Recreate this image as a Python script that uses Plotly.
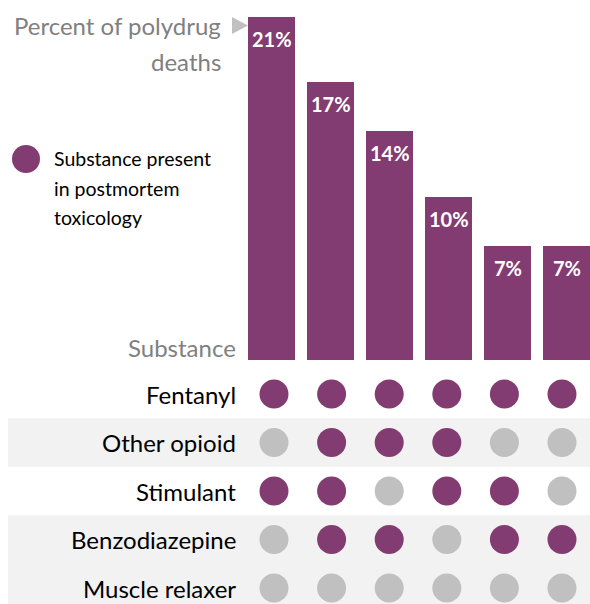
import plotly.graph_objects as go

# ---- data ----
combos = ["C1", "C2", "C3", "C4", "C5", "C6"]
percent = [21, 17, 14, 10, 7, 7]
bar_labels = ["21%", "17%", "14%", "10%", "7%", "7%"]
substances = ["Fentanyl", "Other opioid", "Stimulant", "Benzodiazepine", "Muscle relaxer"]
presence = [
    [1, 1, 1, 1, 1, 1],  # Fentanyl
    [0, 1, 1, 1, 0, 0],  # Other opioid
    [1, 1, 0, 1, 1, 0],  # Stimulant
    [0, 1, 1, 0, 1, 1],  # Benzodiazepine
    [0, 0, 0, 0, 0, 0],  # Muscle relaxer
]

PURPLE = "#833C71"
GRAY_DOT = "#C0C0C0"
GRAY_TXT = "#808080"
FONT = "Lato"

W, H = 590, 604
xi = list(range(len(combos)))

fig = go.Figure()

# bars
fig.add_trace(go.Bar(
    x=xi, y=percent, width=0.8, marker=dict(color=PURPLE, line=dict(width=0)),
    xaxis="x", yaxis="y", showlegend=False, hoverinfo="skip",
))

# dot matrix
for r, name in enumerate(substances):
    fig.add_trace(go.Scatter(
        x=xi, y=[r] * len(xi), mode="markers",
        marker=dict(size=29, color=[PURPLE if p else GRAY_DOT for p in presence[r]],
                    line=dict(width=0)),
        xaxis="x2", yaxis="y2", showlegend=False, hoverinfo="skip",
    ))

split = 1 - 360 / H
ann = []
# bar value labels
for i, (v, t) in enumerate(zip(percent, bar_labels)):
    ann.append(dict(x=i, y=v, xref="x", yref="y", text=f"<b>{t}</b>", showarrow=False,
                    yanchor="top", yshift=-8, font=dict(family=FONT, size=20, color="white")))
# row labels
for r, name in enumerate(substances):
    ann.append(dict(x=238 / W, y=r, xref="paper", yref="y2", text=name, showarrow=False,
                    xanchor="right", font=dict(family=FONT, size=24, color="black")))
# titles
ann.append(dict(x=223 / W, y=1 - 25 / H, xref="paper", yref="paper", text="Percent of polydrug",
                showarrow=False, xanchor="right", yanchor="middle",
                font=dict(family=FONT, size=24, color=GRAY_TXT)))
ann.append(dict(x=223 / W, y=1 - 62 / H, xref="paper", yref="paper", text="deaths",
                showarrow=False, xanchor="right", yanchor="middle",
                font=dict(family=FONT, size=24, color=GRAY_TXT)))
ann.append(dict(x=238 / W, y=1 - 348 / H, xref="paper", yref="paper", text="Substance",
                showarrow=False, xanchor="right", yanchor="middle",
                font=dict(family=FONT, size=24, color=GRAY_TXT)))
for k, line in enumerate(["Substance present", "in postmortem", "toxicology"]):
    ann.append(dict(x=52 / W, y=1 - (158 + 30 * k) / H, xref="paper", yref="paper", text=line,
                    showarrow=False, xanchor="left", yanchor="middle",
                    font=dict(family=FONT, size=19.5, color="black")))

shapes = [
    dict(type="rect", xref="paper", yref="y2", x0=8 / W, x1=1, y0=0.5, y1=1.5,
         fillcolor="#F2F2F2", line=dict(width=0), layer="below"),
    dict(type="rect", xref="paper", yref="y2", x0=8 / W, x1=1, y0=2.5, y1=5,
         fillcolor="#F2F2F2", line=dict(width=0), layer="below"),
    dict(type="path", xref="paper", yref="paper",
         path=f"M {232/W} {1-17/H} L {248/W} {1-25.5/H} L {232/W} {1-34/H} Z",
         fillcolor="#C0C0C0", line=dict(width=0)),
    # legend dot
    dict(type="circle", xref="paper", yref="paper",
         x0=12 / W, x1=40 / W, y0=1 - 173 / H, y1=1 - 145 / H,
         fillcolor=PURPLE, line=dict(width=0)),
]

c0, step = 271.5, 59.0      # bar columns
d0, dstep = 274.0, 57.6     # dot columns
fig.update_layout(
    width=W, height=H, margin=dict(l=0, r=0, t=0, b=0),
    paper_bgcolor="white", plot_bgcolor="rgba(0,0,0,0)",
    xaxis=dict(range=[-c0 / step, (W - c0) / step], visible=False, fixedrange=True),
    xaxis2=dict(range=[-d0 / dstep, (W - d0) / dstep], visible=False, anchor="y2"),
    yaxis=dict(domain=[split, 1], range=[0, 360 / 16.33], visible=False),
    yaxis2=dict(domain=[0, split], range=[(604 - 394) / 48.5, -34 / 48.5], visible=False,
                anchor="x2"),
    annotations=ann, shapes=shapes, bargap=0,
)
fig.write_html("out.html", config={"displayModeBar": False},
               post_script="document.body.style.margin='0';document.body.style.overflow='hidden';")
